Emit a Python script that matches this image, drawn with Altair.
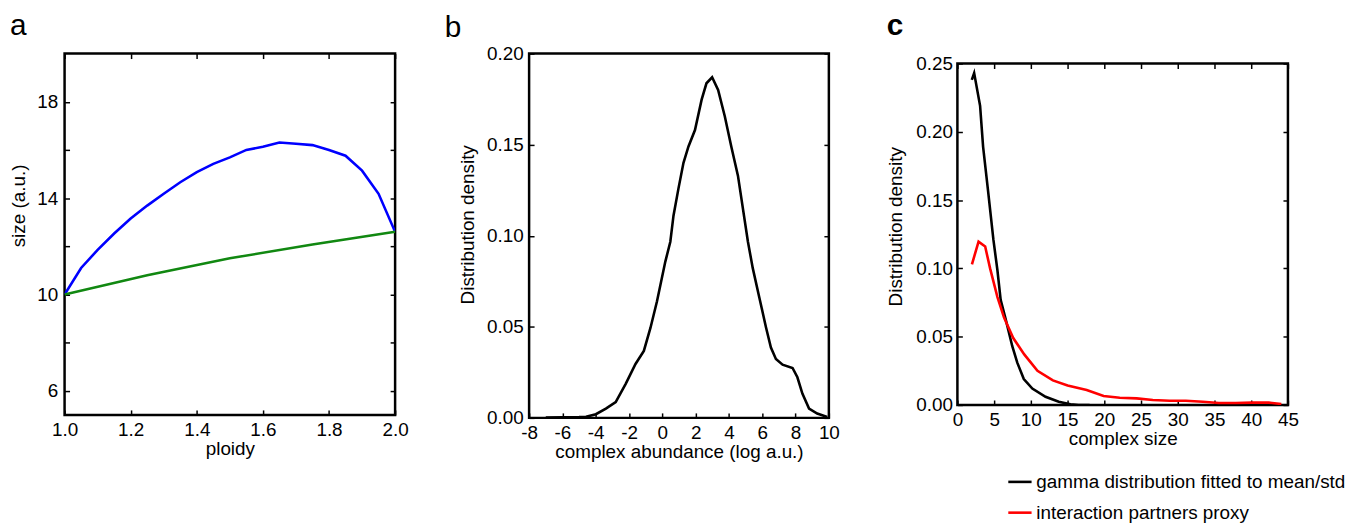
import altair as alt
import pandas as pd

FONT = "Liberation Sans"
FS = 19

# ---------------- panel a ----------------
ploidy_blue = [1.0, 1.05, 1.10, 1.15, 1.20, 1.25, 1.30, 1.35, 1.40, 1.45, 1.50,
               1.55, 1.60, 1.65, 1.70, 1.75, 1.80, 1.85, 1.90, 1.95, 2.0]
size_blue = [10.0, 11.1, 11.85, 12.53, 13.15, 13.69, 14.18, 14.66, 15.08, 15.42, 15.69,
             16.0, 16.13, 16.31, 16.26, 16.2, 16.0, 15.76, 15.14, 14.18, 12.6]
ploidy_green = [1.0, 1.25, 1.5, 1.75, 2.0]
size_green = [10.0, 10.8, 11.5, 12.07, 12.6]

# ---------------- panel b ----------------
abund_x = [-7.0, -6.0, -5.0, -4.58, -3.99, -3.39, -2.8, -2.2, -1.61, -1.11, -0.71, -0.32,
           0.18, 0.48, 0.67, 0.97, 1.27, 1.57, 1.96, 2.36, 2.65, 2.99, 3.35, 3.75, 4.14,
           4.54, 5.14, 5.43, 5.83, 6.23, 6.52, 6.82, 7.22, 7.82, 8.11, 8.41, 8.81, 9.30, 9.9]
abund_y = [0.0002, 0.0003, 0.0004, 0.0006, 0.002, 0.0051, 0.0087, 0.0187, 0.0296, 0.0368,
           0.0495, 0.064, 0.0858, 0.0967, 0.111, 0.126, 0.140, 0.149, 0.158, 0.1747, 0.1837,
           0.187, 0.180, 0.1656, 0.149, 0.133, 0.0967, 0.0822, 0.0658, 0.0495, 0.0386,
           0.0323, 0.0292, 0.0274, 0.0223, 0.0133, 0.0051, 0.0024, 0.0005]

# ---------------- panel c ----------------
gamma_x = [1.96, 2.28, 3.09, 3.5, 4.17, 4.9, 5.44, 5.89, 6.56, 7.47, 8.15, 9.04, 10.2,
           12.0, 13.8, 15.4, 16.5, 18.0]
gamma_y = [0.238, 0.243, 0.219, 0.189, 0.157, 0.121, 0.099, 0.077, 0.063, 0.043, 0.031,
           0.019, 0.012, 0.006, 0.0023, 0.0005, 0.0, 0.0]
partners_x = [1.98, 2.88, 3.78, 4.45, 5.45, 6.35, 7.6, 9.1, 10.9, 13.0, 15.0, 17.6, 19.9,
              22.1, 24.4, 26.6, 28.9, 31.1, 33.4, 35.6, 37.9, 40.1, 42.4, 44.1]
partners_y = [0.103, 0.1196, 0.116, 0.100, 0.079, 0.064, 0.049, 0.037, 0.025, 0.018,
              0.0142, 0.011, 0.0065, 0.0053, 0.0048, 0.0036, 0.0031, 0.0031, 0.0024,
              0.0014, 0.0014, 0.0017, 0.0017, 0.0007]
series_names = ["gamma distribution fitted to mean/std", "interaction partners proxy"]
series_colors = ["black", "red"]

# ticks
a_x_ticks = [1.0, 1.2, 1.4, 1.6, 1.8, 2.0]
a_y_ticks = [6, 8, 10, 12, 14, 16, 18]
b_x_ticks = [-8, -6, -4, -2, 0, 2, 4, 6, 8, 10]
b_y_ticks = [0.0, 0.05, 0.10, 0.15, 0.20]
c_x_ticks = [0, 5, 10, 15, 20, 25, 30, 35, 40, 45]
c_y_ticks = [0.0, 0.05, 0.10, 0.15, 0.20, 0.25]


def ax(values, orient, labels=True, **kw):
    p = dict(values=values, orient=orient, offset=-5, tickSize=5, tickWidth=1.5,
             tickColor="black", domain=False, grid=False, labels=labels,
             labelFontSize=FS, labelFont=FONT, labelColor="black", labelFlush=False,
             labelOverlap=False, titleFontSize=FS, titleFont=FONT, titleColor="black",
             titleFontWeight="normal")
    if not labels:
        p["title"] = ""
    p.update(kw)
    return alt.Axis(**p)


def letter(t, size, weight, offset, dx):
    return alt.TitleParams(t, anchor="start", fontSize=size, font=FONT, fontWeight=weight,
                           color="black", offset=offset, dx=dx)


# ---------- panel a ----------
df_ab = pd.DataFrame({"ploidy": ploidy_blue, "size": size_blue})
df_ag = pd.DataFrame({"ploidy": ploidy_green, "size": size_green})
xs_a = alt.Scale(domain=[1, 2], nice=False, zero=False)
ys_a = alt.Scale(domain=[5, 20], nice=False, zero=False)
lexpr_a = "datum.value % 4 == 2 ? datum.label : ''"

a_blue = alt.Chart(df_ab).mark_line(color="#0000ff", strokeWidth=2.6, clip=True).encode(
    x=alt.X("ploidy:Q", scale=xs_a,
            axis=ax(a_x_ticks, "bottom", format=".1f", title="ploidy", labelPadding=6,
                    titlePadding=0)),
    y=alt.Y("size:Q", scale=ys_a,
            axis=ax(a_y_ticks, "left", labelExpr=lexpr_a, title="size (a.u.)",
                    labelPadding=7, titleX=-41, titleY=153, titleBaseline="bottom")),
)
a_green = alt.Chart(df_ag).mark_line(color="#118811", strokeWidth=2.6, clip=True).encode(
    x=alt.X("ploidy:Q", scale=xs_a, axis=ax(a_x_ticks, "top", labels=False)),
    y=alt.Y("size:Q", scale=ys_a, axis=ax(a_y_ticks, "right", labels=False)),
)
panel_a = alt.layer(a_blue, a_green).resolve_axis(x="independent", y="independent").properties(
    width=333, height=364, title=letter("a", 30, "normal", 12, 0),
)

# ---------- panel b ----------
df_b = pd.DataFrame({"x": abund_x, "y": abund_y})
xs_b = alt.Scale(domain=[-8, 10], nice=False, zero=False)
ys_b = alt.Scale(domain=[0, 0.2], nice=False, zero=False)
x_b = alt.X("x:Q", scale=xs_b,
            axis=ax(b_x_ticks, "bottom", title="complex abundance (log a.u.)",
                    labelExpr="replace(datum.label, '\u2212', '-')", labelPadding=6,
                    titlePadding=0))
b_line = alt.Chart(df_b).mark_line(color="black", strokeWidth=2.6, clip=True).encode(
    x=x_b,
    y=alt.Y("y:Q", scale=ys_b,
            axis=ax(b_y_ticks, "left", format=".2f", title="Distribution density",
                    labelPadding=6, titleX=-57, titleY=172, titleBaseline="bottom")),
)
b_ghost = alt.Chart(df_b).mark_line(opacity=0, clip=True).encode(
    x=x_b,
    y=alt.Y("y:Q", scale=ys_b, axis=ax(b_y_ticks, "right", labels=False)),
)
panel_b = alt.layer(b_line, b_ghost).resolve_axis(y="independent").properties(
    width=302, height=367, title=letter("b", 30, "normal", 2, -14),
)

# ---------- panel c ----------
df_c = pd.concat([
    pd.DataFrame({"size": gamma_x, "density": gamma_y, "series": series_names[0]}),
    pd.DataFrame({"size": partners_x, "density": partners_y, "series": series_names[1]}),
])
xs_c = alt.Scale(domain=[0, 45], nice=False, zero=False)
ys_c = alt.Scale(domain=[0, 0.25], nice=False, zero=False)
c_lines = alt.Chart(df_c).mark_line(strokeWidth=2.6, clip=True).encode(
    x=alt.X("size:Q", scale=xs_c,
            axis=ax(c_x_ticks, "bottom", format="d", title="complex size", labelPadding=6,
                    titlePadding=0)),
    y=alt.Y("density:Q", scale=ys_c,
            axis=ax(c_y_ticks, "left", format=".2f", title="Distribution density",
                    labelPadding=5, titleX=-57, titleY=164, titleBaseline="bottom")),
    color=alt.Color("series:N", sort=series_names,
                    scale=alt.Scale(domain=series_names, range=series_colors),
                    legend=alt.Legend(title=None, orient="none", legendX=949, legendY=418,
                                      direction="vertical", symbolType="stroke",
                                      symbolSize=550, symbolStrokeWidth=2.6,
                                      labelFontSize=FS, labelFont=FONT, labelColor="black",
                                      labelOffset=3, rowPadding=7, padding=0,
                                      labelLimit=400)),
    detail="series:N",
)
c_ghost = alt.Chart(df_c).mark_line(opacity=0, clip=True).encode(
    x=alt.X("size:Q", scale=xs_c, axis=ax(c_x_ticks, "top", labels=False)),
    y=alt.Y("density:Q", scale=ys_c, axis=ax(c_y_ticks, "right", labels=False)),
    detail="series:N",
)
panel_c = alt.layer(c_lines, c_ghost).resolve_axis(x="independent", y="independent").properties(
    width=333, height=344,
)

spacer = alt.Chart(pd.DataFrame({"v": [0]})).mark_point(opacity=0).encode(
    x=alt.X("v:Q", axis=None), y=alt.Y("v:Q", axis=None),
).properties(width=333, height=10, view=alt.ViewBackground(strokeOpacity=0))

right = alt.vconcat(spacer, panel_c, spacing=0, bounds="flush").properties(
    title=letter("c", 30, "bold", 12, 1)
)

chart = alt.hconcat(
    alt.hconcat(panel_a, panel_b, spacing=33),
    right, spacing=44.5,
).properties(
    padding={"left": 0, "top": 0, "right": 0, "bottom": 0}
).configure_view(
    stroke="black", strokeWidth=2.5
)

chart.save("out.html", embed_options={"renderer": "svg", "actions": False})
